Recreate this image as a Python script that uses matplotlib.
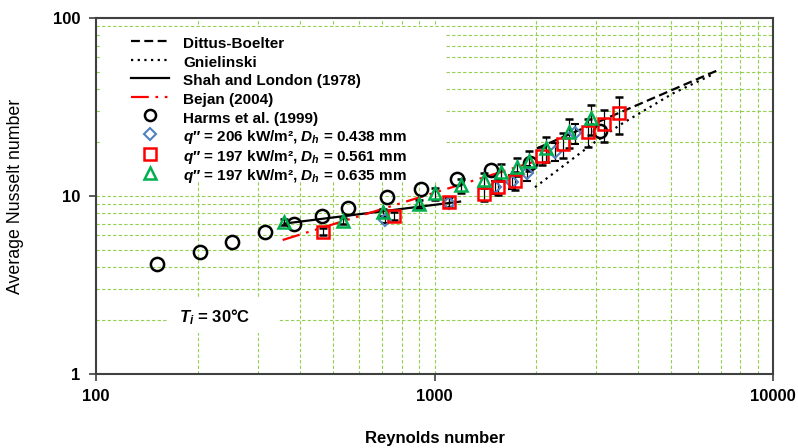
import matplotlib
matplotlib.use("Agg")
import matplotlib.pyplot as plt
from matplotlib.lines import Line2D
from matplotlib.patches import Rectangle
from matplotlib.ticker import FixedLocator, NullFormatter, LogLocator

plt.rcParams['font.family'] = ['Liberation Sans', 'DejaVu Sans']
plt.rcParams['mathtext.fontset'] = 'custom'
plt.rcParams['mathtext.rm'] = 'Liberation Sans:bold'
plt.rcParams['mathtext.it'] = 'Liberation Sans:italic:bold'
plt.rcParams['mathtext.bf'] = 'Liberation Sans:bold'

# correlations
db_re = [2004, 6820]
db_nu = [18.5, 50.6]
gn_re = [1981, 2946, 3532, 5075, 6664]
gn_nu = [11.2, 19.8, 25.1, 37.8, 48.4]
sl_re = [360, 1190]
sl_nu = [7.0, 9.3]
bj_re = [356, 1950]
bj_nu = [5.66, 15.5]

# Harms et al. (1999)
harms_re = [151, 203, 253, 316, 385, 466, 556, 722, 912, 1163, 1469, 1915, 3083]
harms_nu = [4.13, 4.84, 5.53, 6.30, 6.93, 7.72, 8.60, 9.91, 10.95, 12.46, 14.0, 15.4, 23.3]

# Dh = 0.438 mm
d1_re = [714, 1104, 1509, 1691, 1880, 2270, 2601]
d1_nu = [7.33, 9.19, 11.2, 12.03, 13.41, 17.74, 22.5]
d1_err = [0.3, 0.5, 0.9, 1.1, 1.3, 2.0, 2.8]

# Dh = 0.561 mm
d2_re = [467, 761, 1104, 1402, 1537, 1729, 2074, 2402, 2848, 3168, 3501]
d2_nu = [6.30, 7.72, 9.23, 10.30, 11.28, 12.19, 16.84, 19.5, 22.97, 25.4, 29.2]
d2_err = [0.3, 0.4, 0.6, 0.9, 1.2, 1.4, 2.0, 3.1, 4.0, 5.2, 6.8]

# Dh = 0.635 mm
d3_re = [359, 538, 703, 902, 1003, 1198, 1403, 1569, 1756, 1902, 2131, 2502, 2893]
d3_nu = [7.17, 7.26, 8.10, 9.02, 10.33, 11.46, 12.30, 13.69, 14.61, 15.79, 18.53, 22.8, 27.3]
d3_err = [0.3, 0.3, 0.4, 0.5, 0.8, 1.0, 1.2, 1.5, 1.7, 2.0, 3.0, 4.2, 5.3]

labels = ["Dittus-Boelter", "Gnielinski", "Shah and London (1978)", "Bejan (2004)",
          "Harms et al. (1999)",
          "$q$\u2033 = 206 kW/m², $D_h$ = 0.438 mm",
          "$q$\u2033 = 197 kW/m², $D_h$ = 0.561 mm",
          "$q$\u2033 = 197 kW/m², $D_h$ = 0.635 mm"]

red = '#ff0000'
green = '#00b050'
blue = '#4f81bd'
gridc = '#92d050'

fig = plt.figure(figsize=(7.98, 4.48), dpi=100)
ax = fig.add_axes([0.1203, 0.1652, 0.8484, 0.7946])
ax.set_xscale('log')
ax.set_yscale('log')
ax.set_xlim(100, 10000)
ax.set_ylim(1, 100)

ax.set_axisbelow(True)
ax.grid(True, which='both', color=gridc, linestyle=(0, (3, 2)), linewidth=0.8)

# white boxes that hide the grid behind legend and note
ax.add_patch(Rectangle((0.0074, 0.539), 0.508, 0.435, transform=ax.transAxes,
                       facecolor='white', edgecolor='none', zorder=1))
ax.add_patch(Rectangle((0.105, 0.115), 0.164, 0.099, transform=ax.transAxes,
                       facecolor='white', edgecolor='none', zorder=1))

ax.plot(db_re, db_nu, color='black', lw=1.6, dashes=(4, 2), zorder=2)
ax.plot(gn_re, gn_nu, color='black', lw=1.6, dashes=(1, 2), zorder=2)
ax.plot(sl_re, sl_nu, color='black', lw=1.6, zorder=2)
ax.plot(bj_re, bj_nu, color=red, lw=1.6, dashes=(8, 3, 1.2, 3, 1.2, 3), zorder=2)

ax.plot(harms_re, harms_nu, 'o', ms=9.5, mfc='none', mec='black', mew=1.8, zorder=3)

ekw = dict(ecolor='black', elinewidth=0.9, capsize=3, capthick=0.9, linestyle='none', zorder=3)
ax.errorbar(d1_re, d1_nu, yerr=d1_err, marker='D', ms=6.5, mfc='none', mec=blue, mew=1.5, **ekw)
ax.errorbar(d2_re, d2_nu, yerr=d2_err, marker='s', ms=8.5, mfc='none', mec=red, mew=1.8, **ekw)
ax.errorbar(d3_re, d3_nu, yerr=d3_err, marker='^', ms=9, mfc='none', mec=green, mew=1.8, **ekw)

handles = [
    Line2D([], [], color='black', lw=1.6, dashes=(4, 2)),
    Line2D([], [], color='black', lw=1.6, dashes=(1, 2)),
    Line2D([], [], color='black', lw=1.6),
    Line2D([], [], color=red, lw=1.6, dashes=(8, 3, 1.2, 3, 1.2, 3)),
    Line2D([], [], marker='o', ls='none', ms=8, mfc='none', mec='black', mew=1.8),
    Line2D([], [], marker='D', ls='none', ms=6.5, mfc='none', mec=blue, mew=1.5),
    Line2D([], [], marker='s', ls='none', ms=8, mfc='none', mec=red, mew=1.8),
    Line2D([], [], marker='^', ls='none', ms=8.5, mfc='none', mec=green, mew=1.8),
]
leg = ax.legend(handles, labels, loc='upper left', bbox_to_anchor=(0.051, 0.955),
                frameon=False, borderpad=0, borderaxespad=0, handlelength=2.5,
                handleheight=1.45, handletextpad=0.95, labelspacing=0.03,
                prop={'size': 11, 'weight': 'bold'})
leg.set_zorder(5)

ax.text(0.122, 0.160, '$T_i$ = 30\u00b0C', transform=ax.transAxes, fontsize=12,
        fontweight='bold', va='center', ha='left', zorder=5)

ax.xaxis.set_major_locator(FixedLocator([100, 1000, 10000]))
ax.yaxis.set_major_locator(FixedLocator([1, 10, 100]))
ax.set_xticklabels(['100', '1000', '10000'])
ax.set_yticklabels(['1', '10', '100'])
ax.xaxis.set_minor_locator(LogLocator(base=10, subs=range(2, 10)))
ax.yaxis.set_minor_locator(LogLocator(base=10, subs=range(2, 10)))
ax.xaxis.set_minor_formatter(NullFormatter())
ax.yaxis.set_minor_formatter(NullFormatter())
ax.tick_params(which='minor', length=0)
ax.tick_params(which='major', direction='out', length=5, width=1.2, color='#404040',
               labelsize=12, pad=6)
for t in ax.get_xticklabels() + ax.get_yticklabels():
    t.set_fontweight('bold')
for s in ax.spines.values():
    s.set_linewidth(1.5)
    s.set_color('#404040')

ax.set_xlabel('Reynolds number', fontsize=12, fontweight='bold', labelpad=19)
ax.set_ylabel('Average Nusselt number', fontsize=12.8, labelpad=21)

fig.savefig('out.png', dpi=100)
